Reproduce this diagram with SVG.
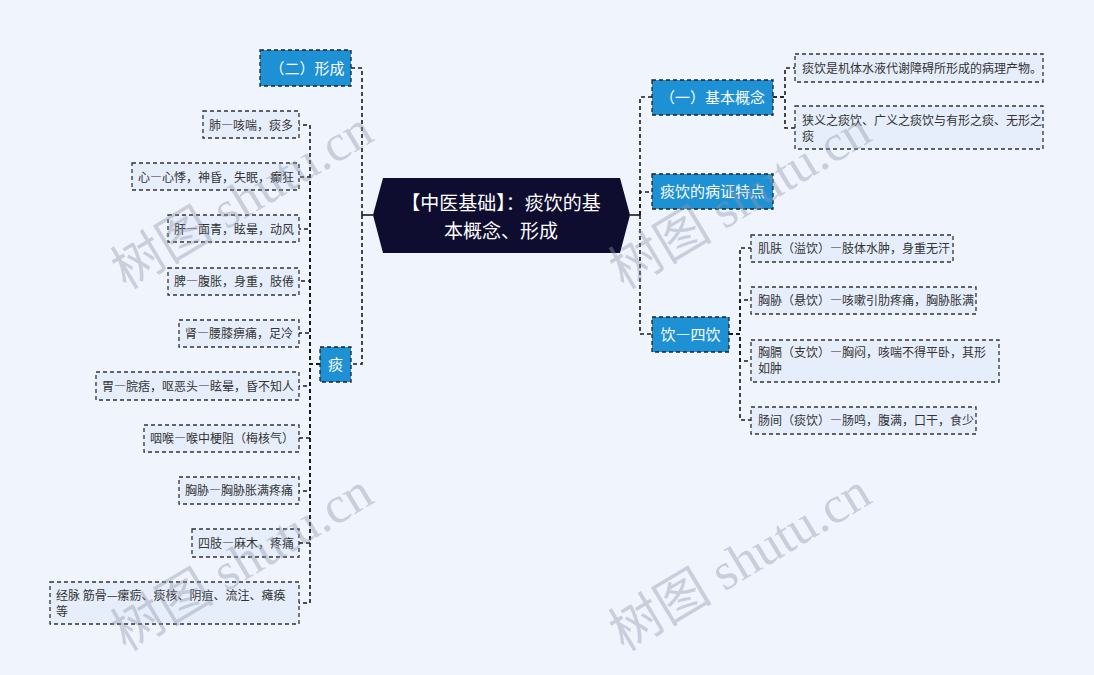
<svg xmlns="http://www.w3.org/2000/svg" width="1094" height="675" viewBox="0 0 1094 675">
<style>
.bg{fill:#EFF4FD}
.leaf rect{fill:#E6EEFB;stroke:#333;stroke-width:1.3;stroke-dasharray:4 3}
.leaf text{font-family:"Noto Sans CJK SC","Liberation Sans",sans-serif;font-size:12px;fill:#333;font-feature-settings:"fwid"}
.leaf text.nf{font-feature-settings:normal}
.br rect{fill:#1E90D4;stroke:#222;stroke-width:1.3;stroke-dasharray:4 3}
.br text{font-family:"Noto Sans CJK SC","Liberation Sans",sans-serif;font-size:15px;fill:#fff;text-anchor:middle;font-feature-settings:"fwid"}
.conn path{fill:none;stroke:#1a1a1a;stroke-width:1.6;stroke-dasharray:4 3}
.conn path.solid{stroke-dasharray:none}
.wm{font-family:"Liberation Serif","Noto Sans CJK SC",serif;font-size:52px;fill:#9098AA;opacity:0.4}
</style>
<rect class="bg" x="0" y="0" width="1094" height="675"/>

<g id="connectors" class="conn">
  <path class="solid" d="M630 215 H640"/>
  <path d="M640 215 V97 H652"/>
  <path d="M640 215 V192 H652"/>
  <path d="M640 215 V334 H652"/>
  <path d="M773 97 H785 V68 H795"/>
  <path d="M773 97 H785 V128 H795"/>
  <path d="M729 334 H740 V248 H751"/>
  <path d="M729 334 H740 V300 H751"/>
  <path d="M729 334 H740 V361 H751"/>
  <path d="M729 334 H740 V420 H751"/>
  <path class="solid" d="M373 215 H362"/>
  <path d="M362 215 V68 H351"/>
  <path d="M362 215 V364 H351"/>
  <path d="M320 364 H310 V125 H299"/>
  <path d="M320 364 H310 V177 H299"/>
  <path d="M320 364 H310 V229 H299"/>
  <path d="M320 364 H310 V281 H299"/>
  <path d="M320 364 H310 V333 H299"/>
  <path d="M320 364 H310 V386 H299"/>
  <path d="M320 364 H310 V438 H299"/>
  <path d="M320 364 H310 V491 H299"/>
  <path d="M320 364 H310 V543 H299"/>
  <path d="M320 364 H310 V603 H299"/>
</g>

<g id="root">
  <polygon points="373,215 383,178 620,178 630,215 620,253 383,253" fill="#0E0C2F"/>
  <text x="501" y="210" font-family="Noto Sans CJK SC,Liberation Sans,sans-serif" font-size="19" fill="#fff" text-anchor="middle">【中医基础】：痰饮的基</text>
  <text x="501" y="238" font-family="Noto Sans CJK SC,Liberation Sans,sans-serif" font-size="19" fill="#fff" text-anchor="middle">本概念、形成</text>
</g>

<g id="b-concept" class="br"><rect x="652" y="80" width="121" height="35"/><text x="712.5" y="102.5">（一）基本概念</text></g>
<g id="b-feature" class="br"><rect x="652" y="174" width="121" height="35"/><text x="712.5" y="197">痰饮的病证特点</text></g>
<g id="b-siyin" class="br"><rect x="652" y="317" width="77" height="35"/><text x="690.5" y="340">饮—四饮</text></g>
<g id="b-form" class="br"><rect x="260" y="50" width="91" height="36"/><text x="307" y="73.5">（二）形成</text></g>
<g id="b-tan" class="br"><rect x="320" y="347" width="31" height="35"/><text x="335.5" y="370">痰</text></g>

<g id="r1" class="leaf"><rect x="795" y="54" width="248" height="28"/><text x="802" y="72.5">痰饮是机体水液代谢障碍所形成的病理产物。</text></g>
<g id="r2" class="leaf"><rect x="795" y="106" width="248" height="43"/><text x="802" y="125">狭义之痰饮、广义之痰饮与有形之痰、无形之</text><text x="802" y="141">痰</text></g>

<g id="y1" class="leaf"><rect x="751" y="235" width="202" height="27"/><text x="758" y="253">肌肤（溢饮）—肢体水肿，身重无汗</text></g>
<g id="y2" class="leaf"><rect x="751" y="287" width="225" height="27"/><text x="758" y="305">胸胁（悬饮）—咳嗽引肋疼痛，胸胁胀满</text></g>
<g id="y3" class="leaf"><rect x="751" y="340" width="248" height="42"/><text x="758" y="357">胸膈（支饮）—胸闷，咳喘不得平卧，其形</text><text x="758" y="373">如肿</text></g>
<g id="y4" class="leaf"><rect x="751" y="407" width="225" height="27"/><text x="758" y="425">肠间（痰饮）—肠鸣，腹满，口干，食少</text></g>

<g id="t1" class="leaf"><rect x="203" y="111" width="96" height="27"/><text x="209" y="129.5">肺—咳喘，痰多</text></g>
<g id="t2" class="leaf"><rect x="132" y="163" width="167" height="27"/><text x="138" y="181.5">心—心悸，神昏，失眠，癫狂</text></g>
<g id="t3" class="leaf"><rect x="168" y="215" width="131" height="27"/><text x="174" y="233.5">肝—面青，眩晕，动风</text></g>
<g id="t4" class="leaf"><rect x="168" y="268" width="131" height="27"/><text x="174" y="286">脾—腹胀，身重，肢倦</text></g>
<g id="t5" class="leaf"><rect x="179" y="320" width="120" height="27"/><text x="185" y="338">肾—腰膝痹痛，足冷</text></g>
<g id="t6" class="leaf"><rect x="96" y="372" width="203" height="28"/><text x="102" y="390.5">胃—脘痞，呕恶头—眩晕，昏不知人</text></g>
<g id="t7" class="leaf"><rect x="144" y="425" width="155" height="27"/><text x="150" y="443">咽喉—喉中梗阻（梅核气）</text></g>
<g id="t8" class="leaf"><rect x="179" y="477" width="120" height="27"/><text x="185" y="495">胸胁—胸胁胀满疼痛</text></g>
<g id="t9" class="leaf"><rect x="192" y="529" width="107" height="28"/><text x="198" y="547.5">四肢—麻木，疼痛</text></g>
<g id="t10" class="leaf"><rect x="50" y="582" width="249" height="42"/><text class="nf" x="56" y="600">经脉 筋骨—瘰疬、痰核、阴疽、流注、瘫痪</text><text x="56" y="616">等</text></g>

<g id="watermarks">
  <text class="wm" x="126" y="290" transform="rotate(-31 126 290)">树图 shutu.cn</text>
  <text class="wm" x="624" y="290" transform="rotate(-31 624 290)">树图 shutu.cn</text>
  <text class="wm" x="126" y="652" transform="rotate(-31 126 652)">树图 shutu.cn</text>
  <text class="wm" x="624" y="652" transform="rotate(-31 624 652)">树图 shutu.cn</text>
</g>
</svg>
